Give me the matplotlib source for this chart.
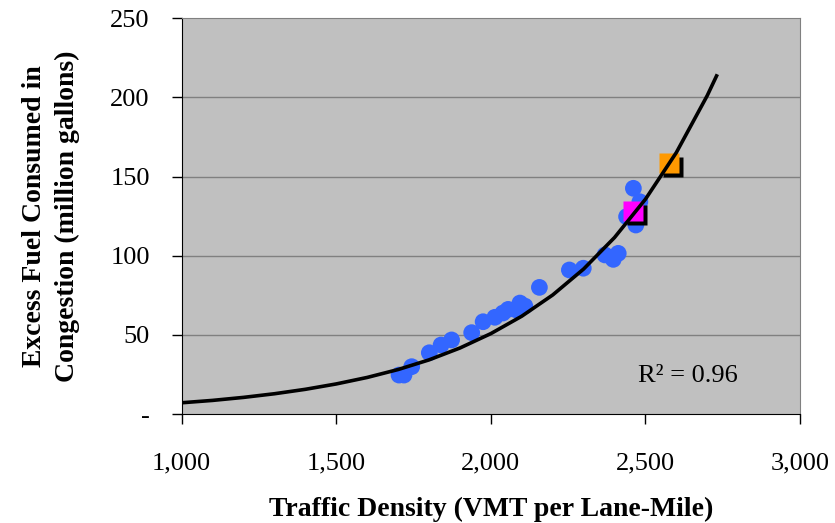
import matplotlib
matplotlib.use("Agg")
import matplotlib.pyplot as plt
import matplotlib.transforms as mtransforms
from matplotlib.ticker import FuncFormatter

plt.rcParams['font.family'] = ['Liberation Serif', 'DejaVu Serif']

# observed urban areas (density vs excess fuel)
density = [1703, 1719, 1744, 1801, 1839, 1873, 1938, 1975, 2013, 2039,
           2056, 2083, 2094, 2110, 2157, 2254, 2299, 2369, 2396, 2412,
           2439, 2461, 2469, 2482]
fuel = [24.6, 24.6, 29.9, 38.7, 43.6, 46.8, 51.4, 58.3, 61.1, 63.8,
        66.1, 65.7, 70.1, 68.2, 80.0, 91.0, 92.1, 100.5, 97.7, 101.5,
        124.7, 142.6, 119.4, 134.1]

# highlighted points
magenta_pt = (2461, 128.4)
orange_pt = (2577, 158.8)

# exponential trend line
trend_x = [1000, 1100, 1200, 1300, 1400, 1500, 1600, 1700, 1800, 1900,
           2000, 2100, 2200, 2300, 2400, 2500, 2600, 2700, 2730]
trend_y = [7.1, 8.6, 10.5, 12.8, 15.6, 19.0, 23.1, 28.1, 34.2, 41.7,
           50.8, 61.8, 75.2, 91.6, 111.5, 135.7, 165.2, 201.2, 213.6]

x_ticks = [1000, 1500, 2000, 2500, 3000]
y_ticks = [0, 50, 100, 150, 200, 250]

fig = plt.figure(figsize=(8.35, 5.23), dpi=100)
ax = fig.add_axes([0.2176, 0.2084, 0.7405, 0.7566])
ax.set_facecolor('#C0C0C0')

for y in y_ticks[1:-1]:
    ax.axhline(y, color='#808080', lw=1, zorder=1)

ax.scatter(density, fuel, s=145, color='#3366FF', edgecolors='none', zorder=2)

# squares with black drop shadow
shadow = mtransforms.offset_copy(ax.transData, fig=fig, x=4, y=-4, units='dots')
for pt, col in [(magenta_pt, '#FF00FF'), (orange_pt, '#FF9900')]:
    ax.plot(pt[0], pt[1], marker='s', ms=14, color='black', mec='none',
            transform=shadow, zorder=3)
    ax.plot(pt[0], pt[1], marker='s', ms=14, color=col, mec='none', zorder=4)

ax.plot(trend_x, trend_y, color='black', lw=2.6, zorder=5)

ax.set_xlim(1000, 3000)
ax.set_ylim(0, 250)
ax.set_xticks(x_ticks)
ax.set_yticks(y_ticks)
ax.xaxis.set_major_formatter(FuncFormatter(lambda v, p: f'{v:,.0f}'))
ax.yaxis.set_major_formatter(FuncFormatter(lambda v, p: '-' if v == 0 else f'{v:.0f}'))
ax.tick_params(axis='x', direction='out', length=7, width=1, pad=21, labelsize=19)
ax.tick_params(axis='y', direction='out', length=7, width=1, pad=16, labelsize=19)

for s in ['left', 'bottom']:
    ax.spines[s].set_color('black')
for s in ['top', 'right']:
    ax.spines[s].set_color('#808080')

ax.text(0.738, 0.096, 'R² = 0.96', transform=ax.transAxes, fontsize=19,
        va='center', ha='left')

ax.set_xlabel('Traffic Density (VMT per Lane-Mile)', fontsize=20,
              fontweight='bold', labelpad=16)
ax.set_ylabel('Excess Fuel Consumed in\nCongestion (million gallons)',
              fontsize=20, fontweight='bold', labelpad=22, linespacing=1.4)

fig.savefig('out.png', dpi=100, facecolor='white')
